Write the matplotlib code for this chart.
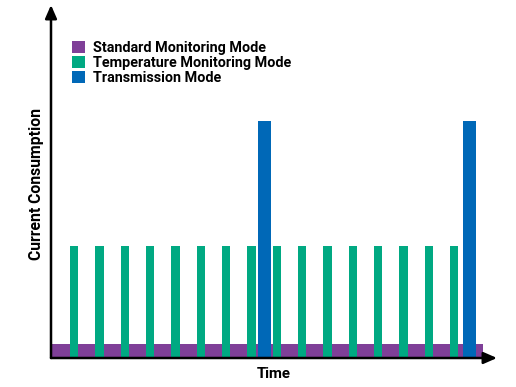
import matplotlib
matplotlib.use("Agg")
import matplotlib.pyplot as plt

# --------------------------------------------------------------------------------------------------
# data (time in units of the temperature measurement period, current in arbitrary units)
# --------------------------------------------------------------------------------------------------
modes = ['Standard Monitoring Mode', 'Temperature Monitoring Mode', 'Transmission Mode']
colors = ['#7f3f98', '#00a982', '#0068b7']

standard_start = 0.0
standard_end = 17.05
standard_level = 0.5

temp_times = [0.75, 1.75, 2.75, 3.75, 4.75, 5.75, 6.75, 7.75,
              8.75, 9.75, 10.75, 11.75, 12.75, 13.75, 14.75, 15.75]
temp_level = 4.0

tx_times = [8.42, 16.52]
tx_level = 8.46

xmax = 17.6
ymax = 12.6

# --------------------------------------------------------------------------------------------------

fig = plt.figure(figsize=(5.16, 3.87), dpi=100)
ax = fig.add_axes([51/516, 29/387, (497-51)/516, (358-5)/387])

ax.bar([standard_start], [standard_level], width=standard_end-standard_start, align='edge',
       color=colors[0], label=modes[0], zorder=1)
ax.bar(temp_times, [temp_level]*len(temp_times), width=0.33, align='edge',
       color=colors[1], label=modes[1], zorder=2)
ax.bar(tx_times, [tx_level]*len(tx_times), width=0.52, align='center',
       color=colors[2], label=modes[2], zorder=3)

ax.set_xlim(0, xmax)
ax.set_ylim(0, ymax)
for s in ax.spines.values():
    s.set_visible(False)
ax.set_xticks([])
ax.set_yticks([])

# axis arrows
arrow = dict(arrowstyle='-|>,head_length=0.8,head_width=0.35', color='black', lw=1.8,
             shrinkA=0, shrinkB=0)
ax.annotate('', xy=(1, 0), xytext=(0, 0), xycoords='axes fraction', arrowprops=arrow, zorder=5)
ax.annotate('', xy=(0, 1), xytext=(0, 0), xycoords='axes fraction', arrowprops=arrow, zorder=5)

font = ['Roboto', 'DejaVu Sans']
ax.set_xlabel('Time', fontsize=10.8, fontweight='bold', family=font)
ax.set_ylabel('Current Consumption', fontsize=11.3, fontweight='bold', family=font)
ax.yaxis.set_label_coords(-0.016, 0.494)
ax.xaxis.set_label_coords(0.5, -0.025)
ax.xaxis.label.set_va('top')

leg = ax.legend(loc='upper left', bbox_to_anchor=(0.035, 0.915), frameon=False,
                handlelength=0.85, handleheight=0.85, handletextpad=0.6, labelspacing=0.08,
                borderaxespad=0, prop={'family': font, 'weight': 'bold', 'size': 10.4})

plt.savefig('out.png', dpi=100)
